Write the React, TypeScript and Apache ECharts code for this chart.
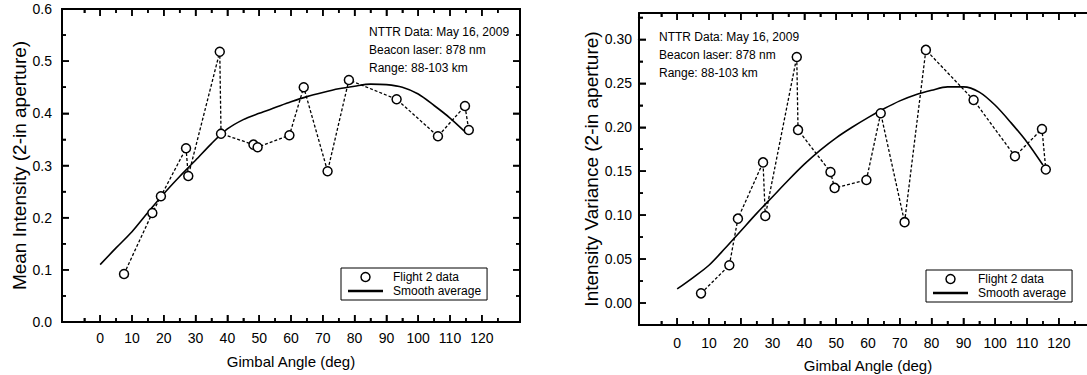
import React, { useEffect, useRef } from "react";
import * as echarts from "echarts";

const FONT = "'Liberation Sans', Arial, Helvetica, sans-serif";

// Flight 2 data (gimbal angle in degrees)
const angles = [7.5, 16.4, 19.1, 27.0, 27.7, 37.6, 38.0, 48.2, 49.5, 59.5, 64.0, 71.5, 78.2, 93.2, 106.2, 114.7, 115.9];
const meanIntensity = [0.092, 0.209, 0.241, 0.333, 0.280, 0.518, 0.361, 0.340, 0.335, 0.358, 0.450, 0.289, 0.464, 0.427, 0.356, 0.414, 0.368];
const intensityVariance = [0.011, 0.043, 0.096, 0.160, 0.099, 0.280, 0.197, 0.149, 0.131, 0.140, 0.216, 0.092, 0.288, 0.231, 0.167, 0.198, 0.152];

// Smooth average curves
const curveAngles = [0, 5, 10, 15, 20, 25, 30, 35, 40, 45, 50, 55, 60, 65, 70, 75, 80, 85, 90, 95, 100, 105, 110, 115];
const meanCurve = [0.110, 0.142, 0.173, 0.210, 0.246, 0.279, 0.310, 0.342, 0.370, 0.388, 0.400, 0.411, 0.422, 0.432, 0.440, 0.447, 0.452, 0.456, 0.455, 0.450, 0.437, 0.415, 0.391, 0.363];
const varianceCurve = [0.016, 0.029, 0.043, 0.062, 0.082, 0.102, 0.121, 0.140, 0.158, 0.174, 0.188, 0.200, 0.211, 0.221, 0.230, 0.237, 0.242, 0.246, 0.246, 0.240, 0.225, 0.205, 0.183, 0.157];

// Axes: frame extents, major (labelled) ticks and minor ticks
const xFrame = [-12, 132];
const xMajorTicks = [0, 10, 20, 30, 40, 50, 60, 70, 80, 90, 100, 110, 120];
const xMinorTicks = [-5, 5, 15, 25, 35, 45, 55, 65, 75, 85, 95, 105, 115, 125];
const meanYFrame = [0, 0.6];
const meanYMajor = [0, 0.1, 0.2, 0.3, 0.4, 0.5, 0.6];
const meanYMinor = [0.05, 0.15, 0.25, 0.35, 0.45, 0.55];
const varYFrame = [-0.025, 0.33];
const varYMajor = [0, 0.05, 0.1, 0.15, 0.2, 0.25, 0.3];
const varYMinor = [-0.025, 0.025, 0.075, 0.125, 0.175, 0.225, 0.275, 0.325];

const annotationText = "NTTR Data: May 16, 2009\nBeacon laser: 878 nm\nRange: 88-103 km";

const pairs = (xs: number[], ys: number[]) => xs.map((x, i) => [x, ys[i]]);
const r6 = (v: number) => Math.round(v * 1e6) / 1e6;
const span = (t: number[]) => ({ min: t[0], max: t[t.length - 1], interval: r6(t[1] - t[0]) });

type Box = { left: number; top: number; width: number; height: number };

const LINE = () => ({ show: true, onZero: false, lineStyle: { color: "#000", width: 2 } });
const TICK = (length: number) => ({ show: true, inside: true, length, lineStyle: { color: "#000", width: 1.5 } });
const MAJOR = 7;
const MINOR = 4;

function buildChart(
  frame: Box,
  yFrame: number[],
  yMajor: number[],
  yMinor: number[],
  digits: number,
  yName: string,
  yLabelMargin: number,
  yNameGap: number,
  xLabelMargin: number,
  xNameGap: number,
  grids: any[],
  xAxes: any[],
  yAxes: any[]
) {
  const sx = frame.width / (xFrame[1] - xFrame[0]);
  const ky = frame.height / (yFrame[1] - yFrame[0]);
  const xGrid = (t: number[]): Box => ({
    left: frame.left + (t[0] - xFrame[0]) * sx,
    top: frame.top,
    width: (t[t.length - 1] - t[0]) * sx,
    height: frame.height,
  });
  const yGrid = (t: number[]): Box => ({
    left: frame.left,
    top: frame.top + (yFrame[1] - t[t.length - 1]) * ky,
    width: frame.width,
    height: (t[t.length - 1] - t[0]) * ky,
  });
  const G = (b: Box) => ({ left: b.left, top: b.top, width: b.width, height: b.height, outerBoundsMode: "none" });
  const dummy = (g: number) => ({ type: "value", gridIndex: g, show: false, min: 0, max: 1 });

  // main grid: frame, labels, names and data
  const gMain = grids.length;
  grids.push(G(frame));
  const mainX = xAxes.length;
  const mainY = yAxes.length;
  xAxes.push({
    type: "value",
    gridIndex: gMain,
    position: "bottom",
    min: xFrame[0],
    max: xFrame[1],
    splitLine: { show: false },
    axisLine: LINE(),
    axisTick: { show: false },
    axisLabel: {
      show: true,
      customValues: xMajorTicks,
      margin: xLabelMargin,
      fontSize: 14,
      fontFamily: FONT,
      color: "#000",
      formatter: (v: number) => String(v),
    },
    name: "Gimbal Angle (deg)",
    nameLocation: "middle",
    nameGap: xNameGap,
    nameTextStyle: { fontSize: 15, fontFamily: FONT, color: "#000" },
  });
  xAxes.push({ type: "value", gridIndex: gMain, position: "top", min: xFrame[0], max: xFrame[1], splitLine: { show: false }, axisLine: LINE(), axisTick: { show: false }, axisLabel: { show: false } });
  yAxes.push({
    type: "value",
    gridIndex: gMain,
    position: "left",
    min: yFrame[0],
    max: yFrame[1],
    splitLine: { show: false },
    axisLine: LINE(),
    axisTick: { show: false },
    axisLabel: {
      show: true,
      customValues: yMajor,
      margin: yLabelMargin,
      fontSize: 14,
      fontFamily: FONT,
      color: "#000",
      formatter: (v: number) => v.toFixed(digits),
    },
    name: yName,
    nameLocation: "middle",
    nameGap: yNameGap,
    nameTextStyle: { fontSize: 19, fontFamily: FONT, color: "#000" },
  });
  yAxes.push({ type: "value", gridIndex: gMain, position: "right", min: yFrame[0], max: yFrame[1], splitLine: { show: false }, axisLine: LINE(), axisTick: { show: false }, axisLabel: { show: false } });

  // tick grids (major and minor, on every side of the frame)
  const tickX = (t: number[], len: number) => {
    const g = grids.length;
    grids.push(G(xGrid(t)));
    ["bottom", "top"].forEach((pos) =>
      xAxes.push({ type: "value", gridIndex: g, position: pos, ...span(t), splitLine: { show: false }, axisLine: LINE(), axisTick: TICK(len), axisLabel: { show: false } })
    );
    yAxes.push(dummy(g));
    return g;
  };
  const tickY = (t: number[], len: number) => {
    const g = grids.length;
    grids.push(G(yGrid(t)));
    ["left", "right"].forEach((pos) =>
      yAxes.push({ type: "value", gridIndex: g, position: pos, ...span(t), splitLine: { show: false }, axisLine: LINE(), axisTick: TICK(len), axisLabel: { show: false } })
    );
    xAxes.push(dummy(g));
    return g;
  };
  tickX(xMajorTicks, MAJOR);
  tickX(xMinorTicks, MINOR);
  tickY(yMajor, MAJOR);
  tickY(yMinor, MINOR);

  return { mainX, mainY };
}

// Tick marks drawn through the main axis scales (api.coord), pointing inward on each side
function tickSeries(xIdx: number, yIdx: number, dir: string, values: number[], len: number, yFrame: number[]) {
  return {
    type: "custom",
    xAxisIndex: xIdx,
    yAxisIndex: yIdx,
    silent: true,
    clip: false,
    z: 10,
    data: values.map((v) => (dir === "x" ? [v, yFrame[0]] : [xFrame[0], v])),
    renderItem: (params: any, api: any) => {
      const style = { stroke: "#000", lineWidth: 1.5, fill: null };
      if (dir === "x") {
        const v = api.value(0);
        const b = api.coord([v, yFrame[0]]);
        const t = api.coord([v, yFrame[1]]);
        return {
          type: "group",
          children: [
            { type: "line", shape: { x1: b[0], y1: b[1], x2: b[0], y2: b[1] - len }, style },
            { type: "line", shape: { x1: t[0], y1: t[1], x2: t[0], y2: t[1] + len }, style },
          ],
        };
      }
      const v = api.value(1);
      const l = api.coord([xFrame[0], v]);
      const r = api.coord([xFrame[1], v]);
      return {
        type: "group",
        children: [
          { type: "line", shape: { x1: l[0], y1: l[1], x2: l[0] + len, y2: l[1] }, style },
          { type: "line", shape: { x1: r[0], y1: r[1], x2: r[0] - len, y2: r[1] }, style },
        ],
      };
    },
  };
}

function seriesFor(xIdx: number, yIdx: number, values: number[], curve: number[], yFrame: number[], yMajor: number[], yMinor: number[]) {
  return [
    {
      type: "line",
      name: "Flight 2 path",
      xAxisIndex: xIdx,
      yAxisIndex: yIdx,
      data: pairs(angles, values),
      symbol: "none",
      clip: false,
      lineStyle: { color: "#000", width: 1.3, type: [3, 2] },
      z: 2,
      silent: true,
    },
    {
      type: "line",
      name: "Smooth average",
      xAxisIndex: xIdx,
      yAxisIndex: yIdx,
      data: pairs(curveAngles, curve),
      smooth: 0.3,
      symbol: "none",
      clip: false,
      lineStyle: { color: "#000", width: 1.6 },
      itemStyle: { color: "#000" },
      z: 3,
      silent: true,
    },
    {
      type: "scatter",
      name: "Flight 2 data",
      xAxisIndex: xIdx,
      yAxisIndex: yIdx,
      data: pairs(angles, values),
      symbol: "circle",
      symbolSize: 9,
      itemStyle: { color: "#fff", borderColor: "#000", borderWidth: 1.5, opacity: 1 },
      z: 5,
      silent: true,
    },
    tickSeries(xIdx, yIdx, "x", xMajorTicks, MAJOR, yFrame),
    tickSeries(xIdx, yIdx, "x", xMinorTicks, MINOR, yFrame),
    tickSeries(xIdx, yIdx, "y", yMajor, MAJOR, yFrame),
    tickSeries(xIdx, yIdx, "y", yMinor, MINOR, yFrame),
  ];
}

function legendAt(left: number, top: number) {
  return {
    data: [
      { name: "Flight 2 data", icon: "circle", itemStyle: { color: "#fff", borderColor: "#000", borderWidth: 1.5 } },
      { name: "Smooth average", icon: "path://M0,0H40V3H0Z", itemStyle: { color: "#000", borderWidth: 0 } },
    ],
    left,
    top,
    orient: "vertical",
    itemWidth: 35,
    itemHeight: 9,
    itemGap: 2,
    padding: [3, 6, 3, 7],
    borderColor: "#000",
    borderWidth: 1,
    selectedMode: false,
    textStyle: { fontSize: 12, fontFamily: FONT, color: "#000", padding: [0, 0, 0, 5] },
  };
}

function annotationAt(left: number, top: number) {
  return {
    text: annotationText,
    left,
    top,
    padding: 0,
    textStyle: { fontSize: 12, fontWeight: "normal", fontFamily: FONT, color: "#000", lineHeight: 18 },
  };
}

export default function App() {
  const ref = useRef<HTMLDivElement>(null);

  useEffect(() => {
    if (!ref.current) return;
    const chart = echarts.init(ref.current, null, { renderer: "svg" });
    const grids: any[] = [];
    const xAxes: any[] = [];
    const yAxes: any[] = [];
    const left = buildChart(
      { left: 62, top: 9, width: 458, height: 313 },
      meanYFrame, meanYMajor, meanYMinor, 1, "Mean Intensity (2-in aperture)", 10, 33, 9, 32,
      grids, xAxes, yAxes
    );
    const right = buildChart(
      { left: 639, top: 13, width: 458, height: 312 },
      varYFrame, varYMajor, varYMinor, 2, "Intensity Variance (2-in aperture)", 7, 37, 11, 33,
      grids, xAxes, yAxes
    );
    const option = {
      animation: false,
      grid: grids,
      xAxis: xAxes,
      yAxis: yAxes,
      title: [annotationAt(369, 23), annotationAt(659, 28)],
      legend: [legendAt(341, 268), legendAt(926, 270)],
      series: [
        ...seriesFor(left.mainX, left.mainY, meanIntensity, meanCurve, meanYFrame, meanYMajor, meanYMinor),
        ...seriesFor(right.mainX, right.mainY, intensityVariance, varianceCurve, varYFrame, varYMajor, varYMinor),
      ],
    };
    chart.setOption(option as any);
    return () => chart.dispose();
  }, []);

  return <div ref={ref} style={{ position: "absolute", left: 0, top: 0, width: 1087, height: 375 }} />;
}
